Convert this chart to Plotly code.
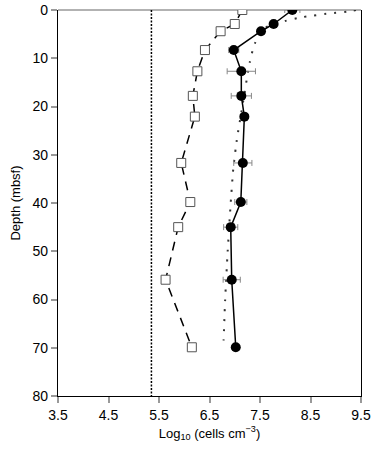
import plotly.graph_objects as go

# Data
depth = [0, 2.9, 4.4, 8.3, 12.7, 17.8, 22.1, 31.7, 39.8, 45, 55.9, 69.9]
cells_total = [8.14, 7.77, 7.52, 6.98, 7.13, 7.13, 7.19, 7.16, 7.12, 6.92, 6.94, 7.02]
cells_err = [0.15, 0.06, 0.06, 0.1, 0.28, 0.2, 0.0, 0.18, 0.12, 0.14, 0.17, 0.0]
cells_open = [7.15, 7.0, 6.72, 6.41, 6.26, 6.17, 6.21, 5.94, 6.12, 5.88, 5.63, 6.15]

model_depth = [0, 0.35, 0.7, 1.2, 1.5, 2.3, 3.7, 6.9, 10.7, 20, 27, 33, 40, 50, 60, 68.5]
model_cells = [9.4, 9.22, 8.89, 8.52, 8.33, 7.99, 7.6, 7.4, 7.3, 7.15, 7.04, 6.97, 6.92, 6.86, 6.81, 6.78]

detect_depth = [0, 80]
detect_cells = [5.35, 5.35]

x_ticks = [3.5, 4.5, 5.5, 6.5, 7.5, 8.5, 9.5]
y_ticks = [0, 10, 20, 30, 40, 50, 60, 70, 80]

fig = go.Figure()

fig.add_trace(go.Scatter(
    x=detect_cells, y=detect_depth, mode="lines",
    line=dict(color="black", width=1.5, dash="2px,1.5px"), showlegend=False))

fig.add_trace(go.Scatter(
    x=model_cells, y=model_depth, mode="lines",
    line=dict(color="#333333", width=2, dash="2px,8px", shape="spline", smoothing=0.6),
    showlegend=False))

fig.add_trace(go.Scatter(
    x=cells_open, y=depth, mode="lines+markers",
    line=dict(color="black", width=1.5, dash="9px,7px"),
    marker=dict(symbol="square", size=9, color="white",
                line=dict(color="#555555", width=1)),
    showlegend=False))

fig.add_trace(go.Scatter(
    x=cells_total, y=depth, mode="lines+markers",
    line=dict(color="black", width=1.5),
    marker=dict(symbol="circle", size=10, color="black"),
    error_x=dict(type="data", array=cells_err, visible=True,
                 color="#888888", thickness=1, width=3),
    showlegend=False))

# grey top border
fig.add_shape(type="line", xref="paper", yref="paper", x0=0, x1=1, y0=1, y1=1,
              line=dict(color="#999999", width=1.5), layer="below")

fig.update_layout(
    width=371, height=450,
    margin=dict(l=58, r=10, t=10, b=54, autoexpand=False),
    paper_bgcolor="white", plot_bgcolor="white",
    font=dict(family="Liberation Sans, Arial, sans-serif", size=14, color="black"),
    xaxis=dict(
        range=[3.5, 9.5], tickvals=x_ticks, ticktext=[str(v) for v in x_ticks],
        showgrid=False, zeroline=False, automargin=False,
        showline=True, linecolor="black", linewidth=1.2,
        ticks="outside", ticklen=6, tickcolor="#999999", tickwidth=1.5,
        title=dict(text="Log<sub>10</sub> (cells cm<sup>−3</sup>)", standoff=6,
                   font=dict(size=13)),
    ),
    yaxis=dict(
        range=[80, 0], tickvals=y_ticks,
        showgrid=False, zeroline=False, automargin=False,
        showline=True, linecolor="black", linewidth=1.2, mirror=True,
        ticks="outside", ticklen=6, tickcolor="#999999", tickwidth=1.5,
        title=dict(text="Depth (mbsf)", standoff=8, font=dict(size=13)),
    ),
)

fig.write_html(
    "out.html",
    config={"displayModeBar": False},
    post_script="document.body.style.margin='0';document.body.style.overflow='hidden';",
)
